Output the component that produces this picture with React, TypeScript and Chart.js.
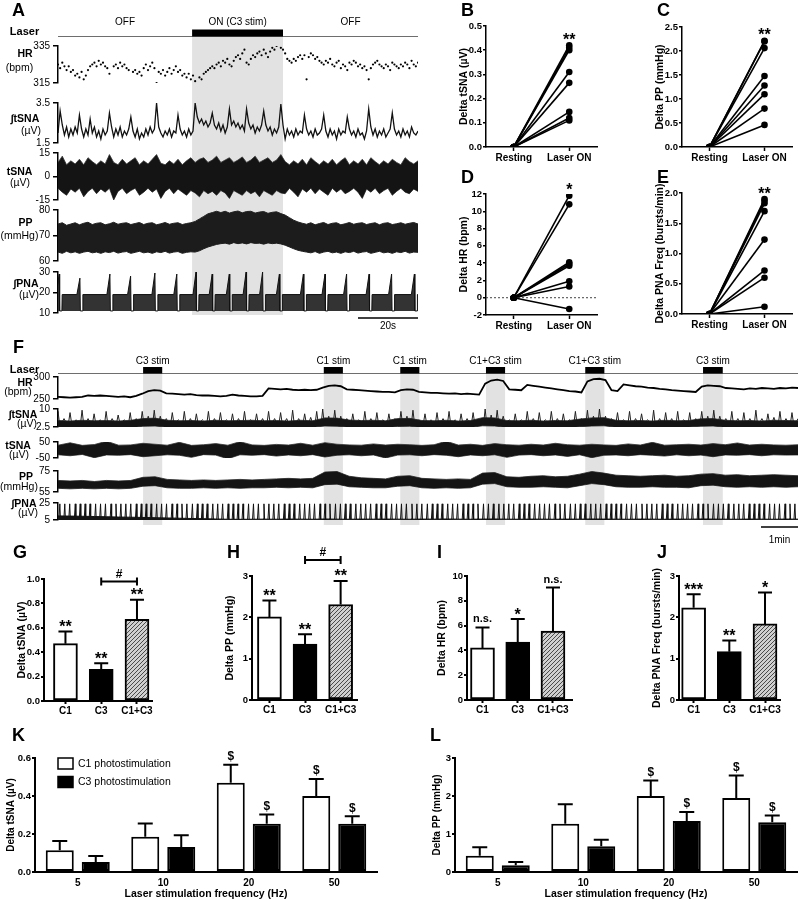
import React, { useEffect, useRef } from "react";
import { Chart, registerables } from "chart.js";

Chart.register(...registerables);

const FONT = "Arial, 'Liberation Sans', Helvetica, sans-serif";

// ================= Panel A : C3 stimulation (2 min) =================
const A_DURATION = 120;
const A_STIM: [number, number] = [44.7, 75];
const A_LASER_TEXT = ["OFF", "ON (C3 stim)", "OFF"];
const A_SCALE_S = 20;
const A_SCALE_TEXT = "20s";

const A_HR_TICKS = [315, 335];
const A_HR = [
  325, 323, 326, 324, 322, 324, 321, 322, 319, 320,
  318, 321, 317, 319, 322, 324, 325, 326, 324, 327,
  325, 326, 324, 323, 320, 312, 324, 325, 323, 326,
  324, 325, 323, 322, 314, 321, 322, 320, 321, 319,
  323, 325, 322, 324, 326, 323, 315, 321, 320, 322,
  319, 321, 323, 320, 322, 324, 321, 322, 319, 320,
  318, 320, 317, 319, 316, 313, 318, 317, 320, 321,
  322, 323, 324, 323, 325, 326, 324, 327, 326, 328,
  325, 324, 327, 329, 330, 328, 331, 333, 326, 325,
  328, 330, 329, 331, 332, 330, 333, 331, 329, 332,
  334, 333, 335, 336, 334, 333, 331, 328, 327, 326,
  328, 327, 329, 330, 328, 330, 317, 329, 331, 330,
  328, 329, 327, 326, 325, 327, 326, 328, 325, 324,
  326, 327, 323, 325, 324, 322, 326, 325, 327, 326,
  324, 325, 323, 324, 322, 317, 323, 325, 326, 327,
  325, 324, 323, 325, 324, 322, 326, 325, 324, 323,
  325, 324, 326, 325, 323, 327, 325, 324, 326,
];

const A_ITSNA_TICKS = [1.5, 3.5];
const A_ITSNA = [
  2.0, 3.1, 2.4, 1.9, 2.3, 1.8, 2.2, 1.9, 2.3, 2.0,
  2.9, 2.2, 1.8, 2.2, 1.9, 2.7, 2.0, 2.3, 1.8, 2.1,
  1.7, 2.2, 1.9, 2.1, 3.0, 2.3, 1.8, 2.2, 1.9, 2.3,
  1.8, 2.1, 1.9, 2.2, 2.8, 2.1, 1.8, 2.2, 1.7, 2.0,
  1.8, 2.2, 1.9, 2.3, 2.0, 2.2, 3.5, 2.3, 2.0, 1.8,
  2.1, 1.9, 2.2, 1.8, 2.1, 2.0, 2.9, 2.2, 1.9, 2.1,
  1.8, 2.2, 1.9, 2.1, 3.5, 2.8, 2.5, 2.7, 2.4, 2.6,
  2.3, 2.5, 3.0, 2.4, 2.2, 2.5, 2.1, 2.4, 2.0, 2.3,
  3.2, 2.4, 2.6, 2.3, 2.5, 2.2, 2.4, 2.1, 3.2, 2.5,
  2.2, 2.4, 2.0, 2.3, 2.1, 2.4, 3.1, 2.4, 2.1, 2.3,
  1.9, 2.2, 2.0, 2.3, 3.45, 2.4, 1.7, 2.2, 1.9, 2.1,
  1.8, 2.2, 1.9, 2.1, 2.0, 2.9, 2.2, 1.9, 2.1, 1.8,
  2.2, 1.9, 2.0, 2.2, 2.9, 2.1, 1.8, 2.2, 1.9, 2.1,
  1.7, 2.2, 1.9, 2.1, 2.0, 2.8, 2.2, 1.9, 2.1, 1.8,
  2.2, 1.9, 2.0, 1.7, 2.1, 3.2, 2.3, 1.9, 2.2, 1.8,
  2.1, 1.9, 2.2, 1.8, 2.0, 2.2, 3.0, 2.2, 1.9, 2.1,
  1.8, 2.2, 1.9, 2.1, 1.8, 2.3, 2.0, 1.9, 2.1,
];

const A_TSNA_TICKS = [-15, 0, 15];
const A_TSNA_UP = [
  9, 13, 7.5, 10, 8, 11, 7.5, 12, 9.5, 7.5,
  10, 8, 14, 9, 7.5, 11, 8, 10, 12, 7.5,
  10, 8, 11, 14, 8.5, 7.5, 10, 8, 11, 7.5,
  10, 12, 9, 11, 12, 9, 10.5, 13, 9, 10.5,
  12, 9, 10.5, 12.5, 9, 10.5, 13, 9, 10.5, 12,
  9, 10.5, 14, 9.5, 7.5, 10, 8, 11, 7.5, 12,
  9.5, 7.5, 10, 8, 11, 7.5, 10, 12, 7.5, 10,
  8, 11, 7.5, 12, 9.5, 7.5, 10, 8, 11, 9,
  7.5, 12, 9.5, 8, 10,
];
const A_TSNA_LO = [
  -7.5, -10, -12, -8, -10, -7.5, -13, -9.5, -7.5, -11,
  -8, -10, -7.5, -15, -9.5, -7.5, -11, -9, -7.5, -12,
  -10, -7.5, -10, -8, -14, -9.5, -7.5, -11, -8, -10,
  -12, -9, -10.5, -13, -9, -11, -9.5, -12, -9, -10.5,
  -14, -9, -10.5, -12, -9, -11, -9.5, -13, -9, -10.5,
  -12, -9, -10.5, -11, -7.5, -10, -13, -8, -10, -7.5,
  -11, -8, -10, -12, -7.5, -10, -8, -11, -9.5, -7.5,
  -10, -14, -8, -10, -7.5, -11, -9, -7.5, -12, -9.5,
  -7.5, -10, -11, -8, -9.5,
];

const A_PP_TICKS = [60, 70, 80];
const A_PP_UP = [
  74.5, 75, 74, 74.5, 75, 74.2, 74.8, 75.2, 74.3, 74.8,
  75, 74.2, 74.6, 75.2, 74.4, 74.8, 75, 74.3, 74.7, 75.1,
  74.3, 74.8, 75, 74.2, 74.6, 75.1, 74.4, 74.8, 75, 74.3,
  74.7, 75, 75.5, 76.5, 77.5, 78.5, 79, 79.5, 79, 79.5,
  78.8, 79.3, 79.6, 78.9, 79.4, 79.5, 78.8, 79.2, 79.4, 78.7,
  79.1, 79.3, 78.6, 78, 77, 76, 75.3, 74.8, 74.4, 75,
  74.2, 74.7, 75.1, 74.3, 74.8, 75, 74.2, 74.6, 75.1, 74.4,
  74.8, 75, 74.3, 74.7, 75, 74.2, 74.8, 75, 74.3, 74.6,
  75, 74.4, 74.8, 75.1, 74.5,
];
const A_PP_LO = [
  63.5, 63, 63.8, 63.2, 63.6, 63, 63.5, 63.8, 63.2, 63.5,
  63, 63.6, 63.3, 63.8, 63.1, 63.5, 63.7, 63, 63.4, 63.8,
  63.2, 63.5, 63, 63.6, 63.3, 63.8, 63.1, 63.5, 63.7, 63,
  63.4, 63.6, 63.5, 64, 64.8, 65.5, 66, 66.5, 66.8, 67,
  66.6, 67.2, 66.8, 67.1, 66.7, 67.2, 66.9, 67, 66.6, 67.1,
  66.8, 67, 66.7, 66.2, 65.5, 64.8, 64.2, 63.8, 63.5, 63.2,
  63.7, 63, 63.5, 63.8, 63.2, 63.5, 63, 63.6, 63.3, 63.8,
  63.1, 63.5, 63.7, 63, 63.4, 63.8, 63.2, 63.5, 63, 63.6,
  63.3, 63.8, 63.1, 63.5, 63.4,
];

const A_PNA_TICKS = [10, 20, 30];
const A_PNA_BURSTS = [0.4, 7.3, 17.3, 24.2, 32.3, 39.6, 46, 51.4, 57.1, 62.7, 68.2, 73.8, 81.8, 89, 96.2, 103.7, 111.2, 118.8];
const A_PNA_PEAKS = [29, 27, 29, 28, 29.5, 29, 30, 29, 29, 30, 30, 29, 29, 29, 29, 29, 29, 29];
const A_PNA_TOP = 19;
const A_PNA_FLOOR = 11;

// ================= Panel B-E : paired data =================
const PAIR_LABELS = ["Resting", "Laser ON"];
const B_VALUES = [0.42, 0.41, 0.4, 0.31, 0.265, 0.145, 0.12, 0.11];
const B_TICKS = [0, 0.1, 0.2, 0.3, 0.4, 0.5];
const B_SIG = "**";
const C_VALUES = [2.21, 2.2, 2.06, 1.48, 1.28, 1.1, 0.8, 0.46];
const C_TICKS = [0, 0.5, 1, 1.5, 2, 2.5];
const C_SIG = "**";
const D_VALUES = [11.8, 10.8, 4.1, 3.9, 3.7, 1.9, 1.3, -1.3];
const D_TICKS = [-2, 0, 2, 4, 6, 8, 10, 12];
const D_SIG = "*";
const E_VALUES = [1.9, 1.87, 1.83, 1.7, 1.23, 0.72, 0.6, 0.12];
const E_TICKS = [0, 0.5, 1, 1.5, 2];
const E_SIG = "**";

// ================= Panel F : sequential stimulations (20 min) =================
const F_DURATION = 1200;
const F_STIMS: [number, number][] = [[138, 169], [431, 462], [555, 586], [694, 725], [855, 886], [1046, 1078]];
const F_STIM_TEXT = ["C3 stim", "C1 stim", "C1 stim", "C1+C3 stim", "C1+C3 stim", "C3 stim"];
const F_SCALE_S = 60;
const F_SCALE_TEXT = "1min";

const F_HR_TICKS = [250, 300];
const F_HR = [
  255, 254, 253, 254, 255, 258, 257, 258, 257, 256, 255, 256, 254, 257,
  262, 268, 270, 269,
  263, 262, 261, 260, 261, 259, 258, 258, 257, 256, 257, 260, 258, 257, 256, 256, 257,
  274, 273, 272, 273, 271, 270, 271, 270, 271,
  276, 280, 281, 279,
  272, 271, 270, 269, 268, 267, 266, 266, 265,
  270, 272, 271,
  266, 265, 264, 264, 263, 262, 263, 261, 262, 261, 260,
  285, 292, 294, 291,
  272, 271, 270,
  282, 280, 278, 276, 274, 272, 270, 268, 267, 265,
  290, 295, 296, 293,
  270, 268,
  283, 281, 279, 278, 276, 275, 273, 272, 270, 269, 268, 267, 266,
  278, 281, 280, 279,
  275, 274, 273, 272, 274, 273, 275, 274, 273, 275, 274, 276, 275,
];

const F_ITSNA_TICKS = [2.5, 10];
const F_ITSNA_BASE = [
  5.2, 5.0, 5.3, 5.1, 5.2, 5.0, 5.3, 6.0, 6.2,
  5.3, 5.1, 5.2, 5.0, 5.3, 5.1, 5.2, 5.3, 5.1, 5.2, 5.0, 5.3, 5.1,
  6.3, 6.2, 5.4, 5.2, 5.3, 5.1, 6.0, 6.1,
  5.2, 5.1, 5.3, 5.0, 5.2, 6.4, 6.3,
  5.2, 5.1, 5.3, 5.0, 5.2, 5.1, 5.8, 6.3, 6.4,
  5.3, 5.1, 5.2, 5.0, 5.3, 5.1, 5.2, 5.9, 6.0,
  5.3, 5.1, 5.2, 5.0, 5.3, 5.2, 5.1,
];
const F_ITSNA_LO = [
  2.3, 2.4, 2.2, 2.5, 2.3, 2.4, 2.2, 2.8, 2.9,
  2.4, 2.3, 2.5, 2.2, 2.4, 2.3, 2.5, 2.4, 2.2, 2.4, 2.5, 2.3, 2.4,
  2.9, 2.8, 2.4, 2.3, 2.4, 2.2, 2.7, 2.8,
  2.3, 2.4, 2.2, 2.5, 2.3, 3.0, 2.9,
  2.3, 2.4, 2.2, 2.5, 2.4, 2.3, 2.6, 2.9, 3.0,
  2.4, 2.3, 2.5, 2.2, 2.4, 2.3, 2.5, 2.8, 2.9,
  2.4, 2.3, 2.5, 2.2, 2.4, 2.3, 2.4,
];
const F_ITSNA_PEAKS = [
  9, 6, 8.5, 5.5, 9.5, 6, 8, 5.5, 9, 6, 7.5, 5.5, 8.5, 6,
  9, 7, 9.5, 7,
  6, 8.5, 5.5, 9, 6, 8, 5.5, 9, 6, 8.5, 5.5, 8, 6, 9, 5.5, 8, 6,
  9, 6, 8.5, 6, 9.5, 6, 8, 6.5, 9,
  10, 7, 9.5, 7,
  6, 8, 5.5, 9, 6, 8.5, 5.5, 8, 6,
  9, 7, 9.5,
  5.5, 8, 5.5, 8.5, 6, 9, 5.5, 8, 6, 8.5, 5.5,
  10, 7.5, 9.5, 7,
  5.5, 8, 5.5, 9, 6, 8.5, 5.5, 9, 6, 8, 5.5, 9, 6,
  9.5, 7, 10, 7,
  6, 8.5, 5.5, 9, 6, 8, 5.5, 9.5, 6, 8.5, 6, 9, 5.5, 8.5, 6,
  9, 7, 9.5, 7,
  6, 9, 6, 8.5, 6, 9.5, 6, 8, 6.5, 9, 6, 8.5, 6,
];

const F_TSNA_TICKS = [-50, 50];
const F_TSNA_UP = [
  30, 45, 29, 34, 55, 30, 32, 42, 36, 30,
  48, 29, 33, 40, 30, 52, 32, 29, 35, 31,
  42, 30, 46, 36, 32, 30, 38, 31, 36, 33,
  29, 33, 55, 31, 36, 29, 40, 33, 30, 36,
  31, 42, 33, 30, 36, 32, 29, 38, 31, 48,
  30, 33, 36, 31, 40, 33, 44, 31, 36, 32,
  30, 33,
];
const F_TSNA_LO = [
  -30, -36, -28, -48, -31, -33, -29, -42, -36, -30,
  -33, -46, -29, -32, -55, -30, -33, -29, -38, -31,
  -36, -29, -44, -33, -30, -36, -31, -50, -32, -30,
  -36, -29, -33, -42, -31, -36, -30, -46, -32, -29,
  -36, -31, -40, -30, -48, -33, -31, -36, -29, -33,
  -38, -30, -36, -32, -42, -31, -33, -29, -36, -30,
  -32, -31,
];

const F_PP_TICKS = [55, 75];
const F_PP_UP = [
  66, 65.5, 66, 65, 66, 65.5, 66,
  69, 69.5,
  67, 66.5, 66, 66.5, 66, 66.5, 67, 66.5, 67, 67.5, 68, 67.5, 68,
  74, 74.5,
  70, 68.5, 68, 67.5,
  70, 70.5,
  68, 67.5, 67, 67.5, 67,
  73, 73.5,
  69.5, 69, 70, 70.5, 69.5, 70,
  72, 74.5, 73,
  71, 70.5, 70, 70.5, 71, 70, 70.5,
  72, 72.5,
  71, 71.5, 70.5, 71, 71.5, 71, 70.5,
];
const F_PP_LO = [
  58.5, 58, 58.5, 58, 58.5, 58, 58.5,
  60.5, 61,
  59, 58.5, 58.5, 59, 58.5, 59, 58.5, 59, 59, 59.5, 59, 59.5, 59,
  62, 62.5,
  60, 59.5, 59, 59,
  60.5, 61,
  59, 58.5, 59, 58.5, 59,
  62.5, 63,
  60, 59.5, 59.5, 60, 59.5, 59,
  61, 63, 62,
  60, 59.5, 59.5, 60, 59.5, 59.5, 59,
  61, 61.5,
  60, 59.5, 60, 59.5, 60, 59.5, 60,
];

const F_PNA_TICKS = [5, 25];
const F_PNA_BASE = [
  9.8, 9.6, 9.4, 9.1, 8.8, 8.5, 8.3, 8.0, 7.7, 7.4,
  7.1, 6.8, 6.5, 6.2, 5.9, 5.8, 5.9, 6.0, 5.9, 6.1,
  6.0, 5.9, 6.2, 6.0, 5.9, 6.1, 6.0, 6.1, 6.0, 5.9,
  6.1, 6.0, 6.2, 6.0, 5.9, 6.1, 6.2, 6.0, 5.9, 6.1,
  6.0, 5.9, 6.1, 6.0, 6.2, 6.1, 6.0, 5.9, 6.1, 6.0,
  5.9, 6.1, 6.0, 6.2, 6.1, 6.0, 5.9, 6.1, 6.0, 5.9,
  6.1, 6.0,
];
const F_PNA_BURSTS = [
  3, 11, 19, 28, 36, 44, 52, 61, 69, 77, 86, 94, 102, 110, 118, 127, 135, 143, 151, 160,
  168, 176, 185, 193, 201, 209, 218, 226, 234, 242, 251, 259, 267, 276, 284, 292, 300, 309, 317, 325,
  334, 342, 350, 358, 367, 375, 383, 392, 400, 408, 416, 425, 433, 441, 450, 458, 466, 474, 483, 491,
  499, 507, 516, 524, 532, 541, 549, 557, 565, 574, 582, 590, 599, 607, 615, 623, 632, 640, 648, 657,
  665, 673, 681, 690, 698, 706, 715, 723, 731, 739, 748, 756, 764, 773, 781, 789, 797, 806, 814, 822,
  831, 839, 847, 855, 864, 872, 880, 889, 897, 905, 913, 922, 930, 938, 947, 955, 963, 971, 980, 988,
  996, 1005, 1013, 1021, 1029, 1038, 1046, 1054, 1063, 1071, 1079, 1087, 1096, 1104, 1112, 1121, 1129, 1137, 1145, 1154,
  1162, 1170, 1179, 1187, 1195,
];
const F_PNA_PEAK = 24;

// ================= Panels G-J : group means =================
const GROUPS = ["C1", "C3", "C1+C3"];
const G_MEAN = [0.47, 0.26, 0.67];
const G_SEM = [0.1, 0.05, 0.16];
const G_SIG = ["**", "**", "**"];
const G_TICKS = [0, 0.2, 0.4, 0.6, 0.8, 1.0];
const G_BRACKET = { from: 2, to: 3, y: 0.98, text: "#" };
const H_MEAN = [2.01, 1.35, 2.31];
const H_SEM = [0.4, 0.24, 0.57];
const H_SIG = ["**", "**", "**"];
const H_TICKS = [0, 1, 2, 3];
const H_BRACKET = { from: 2, to: 3, y: 3.39, text: "#" };
const I_MEAN = [4.2, 4.68, 5.55];
const I_SEM = [1.65, 1.85, 3.52];
const I_SIG = ["n.s.", "*", "n.s."];
const I_TICKS = [0, 2, 4, 6, 8, 10];
const J_MEAN = [2.23, 1.17, 1.84];
const J_SEM = [0.33, 0.27, 0.76];
const J_SIG = ["***", "**", "*"];
const J_TICKS = [0, 1, 2, 3];

// ================= Panels K-L : frequency dependence =================
const FREQS = ["5", "10", "20", "50"];
const SERIES_NAMES = ["C1 photostimulation", "C3 photostimulation"];
const K_C1_MEAN = [0.115, 0.185, 0.47, 0.4];
const K_C1_SEM = [0.048, 0.07, 0.095, 0.09];
const K_C3_MEAN = [0.053, 0.132, 0.254, 0.254];
const K_C3_SEM = [0.031, 0.061, 0.048, 0.039];
const K_C1_SIG = ["", "", "$", "$"];
const K_C3_SIG = ["", "", "$", "$"];
const K_TICKS = [0, 0.2, 0.4, 0.6];
const L_C1_MEAN = [0.43, 1.27, 2.0, 1.95];
const L_C1_SEM = [0.22, 0.51, 0.41, 0.59];
const L_C3_MEAN = [0.18, 0.68, 1.34, 1.31];
const L_C3_SEM = [0.08, 0.17, 0.24, 0.18];
const L_C1_SIG = ["", "", "$", "$"];
const L_C3_SIG = ["", "", "$", "$"];
const L_TICKS = [0, 1, 2, 3];

// ================= helpers =================
type Geo = { l: number; t: number; r: number; b: number; pl: number; pt: number; pr: number; pb: number };
const boxOf = (g: Geo) => ({
  left: g.l - g.pl,
  top: g.t - g.pt,
  width: g.r - g.l + g.pl + g.pr,
  height: g.b - g.t + g.pt + g.pb,
});

const series = (arr: number[], T: number) => arr.map((v, i) => ({ x: (i * T) / (arr.length - 1), y: v }));
const gridTimes = (arr: number[], T: number) => arr.map((_, i) => (i * T) / (arr.length - 1));

function spikes(times: number[], peaks: number[] | number, base: number, rise: number, fall: number) {
  const pts: any[] = [];
  times.forEach((t, i) => {
    const p = Array.isArray(peaks) ? peaks[i] : peaks;
    pts.push({ x: t - rise, y: base }, { x: t, y: p }, { x: t + fall, y: base }, { x: t + fall + 0.01, y: null });
  });
  return pts;
}

function pnaAPoints() {
  const pts: any[] = [];
  A_PNA_BURSTS.forEach((t, i) => {
    pts.push(
      { x: t - 1.0, y: A_PNA_TOP },
      { x: t, y: A_PNA_PEAKS[i] },
      { x: t + 0.15, y: A_PNA_FLOOR },
      { x: t + 0.9, y: A_PNA_FLOOR },
      { x: t + 1.0, y: A_PNA_TOP }
    );
  });
  pts.push({ x: A_DURATION, y: A_PNA_TOP });
  return pts;
}

const baseOptions = () => ({
  animation: false,
  responsive: false,
  maintainAspectRatio: false,
  devicePixelRatio: 1,
  events: [],
  plugins: { legend: { display: false }, tooltip: { enabled: false } },
});

function yAxis(o: {
  min: number; max: number; ticks: number[]; width: number; fmt: (v: number) => string;
  size: number; bold?: boolean; title?: string; titleSize?: number; lineW?: number; tickLen?: number; pad?: number;
}) {
  const lw = o.lineW ?? 1.5;
  return {
    type: "linear",
    min: o.min,
    max: o.max,
    afterBuildTicks: (s: any) => {
      s.ticks = o.ticks.map((v) => ({ value: v }));
    },
    afterFit: (s: any) => {
      s.width = o.width;
      s.paddingTop = 0;
      s.paddingBottom = 0;
      s.paddingLeft = 0;
      s.paddingRight = 0;
    },
    ticks: {
      color: "#000",
      autoSkip: false,
      padding: o.pad ?? 2,
      font: { family: FONT, size: o.size, weight: o.bold ? "bold" : "normal" },
      callback: (v: any) => o.fmt(Number(v)),
    },
    grid: {
      display: true,
      drawOnChartArea: false,
      drawTicks: true,
      tickLength: o.tickLen ?? 4,
      tickWidth: lw,
      tickColor: "#000",
      color: "#000",
      lineWidth: lw,
    },
    border: { display: true, color: "#000", width: lw },
    title: o.title
      ? {
          display: true,
          text: o.title,
          color: "#000",
          font: { family: FONT, size: o.titleSize ?? 10.5, weight: "bold" },
          padding: { top: 4, bottom: 0 },
        }
      : { display: false },
  };
}

function centeredText(ctx: CanvasRenderingContext2D, text: string, x: number, cy: number, font: string) {
  ctx.font = font;
  ctx.textAlign = "center";
  ctx.textBaseline = "alphabetic";
  const m = ctx.measureText(text);
  const asc = m.actualBoundingBoxAscent || 0;
  const desc = m.actualBoundingBoxDescent || 0;
  ctx.fillText(text, x, cy + (asc - desc) / 2);
}
const sigFont = (t: string) =>
  t.includes("*") ? `bold 16px ${FONT}` : t === "n.s." ? `bold 11px ${FONT}` : `bold 12px ${FONT}`;

function hatchPattern(): any {
  const c = document.createElement("canvas");
  c.width = 4;
  c.height = 4;
  const g = c.getContext("2d")!;
  g.fillStyle = "#cfcfcf";
  g.fillRect(0, 0, 4, 4);
  g.strokeStyle = "#4a4a4a";
  g.lineWidth = 1;
  g.beginPath();
  g.moveTo(0, 4);
  g.lineTo(4, 0);
  g.moveTo(-1, 1);
  g.lineTo(1, -1);
  g.moveTo(3, 5);
  g.lineTo(5, 3);
  g.stroke();
  return g.createPattern(c, "repeat");
}

// ---------- chart builders ----------
function traceChart(c: HTMLCanvasElement, g: Geo, T: number, ticks: number[], datasets: any[]) {
  return new Chart(c, {
    type: "line",
    data: { datasets },
    options: {
      ...baseOptions(),
      layout: { padding: { left: 0, top: g.pt, right: g.pr, bottom: g.pb } },
      elements: { point: { radius: 0 }, line: { tension: 0 } },
      scales: {
        x: { type: "linear", min: 0, max: T, display: false },
        y: yAxis({
          min: ticks[0],
          max: ticks[ticks.length - 1],
          ticks,
          width: g.pl,
          fmt: (v) => String(v),
          size: 10,
          tickLen: 5,
          pad: 3,
          lineW: 1.5,
        }),
      },
    },
  } as any);
}

function frameChart(
  c: HTMLCanvasElement,
  g: Geo,
  T: number,
  stims: [number, number][],
  labels: { text: string; from: number; to: number }[],
  scaleS: number,
  scaleText: string,
  o: { barH: number; labelDy: number; sbDy: number; sbTextDy: number }
) {
  return new Chart(c, {
    type: "line",
    data: { datasets: [] },
    options: {
      ...baseOptions(),
      layout: { padding: { left: g.pl, top: g.pt, right: g.pr, bottom: g.pb } },
      scales: {
        x: { type: "linear", min: 0, max: T, display: false },
        y: { type: "linear", min: 0, max: 1, display: false },
      },
    },
    plugins: [
      {
        id: "frame",
        afterDraw(chart: any) {
          const { ctx, chartArea: a } = chart;
          const x = chart.scales.x;
          ctx.save();
          ctx.fillStyle = "#e2e2e2";
          for (const [s, e] of stims) {
            const x1 = x.getPixelForValue(s);
            const x2 = x.getPixelForValue(e);
            ctx.fillRect(x1, a.top, x2 - x1, a.bottom - a.top);
          }
          ctx.strokeStyle = "#6e6e6e";
          ctx.lineWidth = 1;
          ctx.beginPath();
          ctx.moveTo(a.left, a.top + 0.5);
          ctx.lineTo(a.right, a.top + 0.5);
          ctx.stroke();
          ctx.fillStyle = "#000";
          for (const [s, e] of stims) {
            const x1 = x.getPixelForValue(s);
            const x2 = x.getPixelForValue(e);
            ctx.fillRect(x1, a.top - o.barH, x2 - x1, o.barH + 0.5);
          }
          ctx.font = `10px ${FONT}`;
          ctx.textAlign = "center";
          ctx.textBaseline = "middle";
          for (const l of labels) {
            ctx.fillText(l.text, x.getPixelForValue((l.from + l.to) / 2), a.top - o.labelDy);
          }
          const s1 = x.getPixelForValue(T - scaleS);
          const s2 = x.getPixelForValue(T);
          ctx.strokeStyle = "#000";
          ctx.lineWidth = 1.5;
          ctx.beginPath();
          ctx.moveTo(s1, a.bottom + o.sbDy);
          ctx.lineTo(s2, a.bottom + o.sbDy);
          ctx.stroke();
          ctx.fillText(scaleText, (s1 + s2) / 2, a.bottom + o.sbTextDy);
          ctx.restore();
        },
      },
    ],
  } as any);
}

function pairedChart(c: HTMLCanvasElement, g: Geo, vals: number[], ticks: number[], dec: number, title: string, sig: string, zeroLine: boolean) {
  const datasets = vals.map((v) => ({
    data: [0, v],
    borderColor: "#000",
    borderWidth: 1.6,
    pointRadius: 3.3,
    pointBackgroundColor: "#000",
    pointBorderWidth: 0,
  }));
  return new Chart(c, {
    type: "line",
    data: { labels: PAIR_LABELS, datasets },
    options: {
      ...baseOptions(),
      layout: { padding: { left: 0, top: g.pt, right: g.pr, bottom: 0 } },
      elements: { line: { tension: 0 } },
      scales: {
        x: {
          type: "category",
          offset: true,
          afterFit: (s: any) => {
            s.height = g.pb;
            s.paddingLeft = 0;
            s.paddingRight = 0;
          },
          ticks: { color: "#000", padding: 1, font: { family: FONT, size: 10, weight: "bold" } },
          grid: { drawOnChartArea: false, tickLength: 4, tickWidth: 1.5, tickColor: "#000", color: "#000", offset: false },
          border: { color: "#000", width: 1.5 },
        },
        y: yAxis({
          min: ticks[0],
          max: ticks[ticks.length - 1],
          ticks,
          width: g.pl,
          fmt: (v) => v.toFixed(dec),
          size: 9.5,
          bold: true,
          title,
          lineW: 1.5,
          tickLen: 3,
          pad: 1,
        }),
      },
    },
    plugins: [
      {
        id: "pairedAnnot",
        beforeDatasetsDraw(chart: any) {
          if (!zeroLine) return;
          const { ctx, chartArea: a } = chart;
          const y0 = chart.scales.y.getPixelForValue(0);
          ctx.save();
          ctx.strokeStyle = "#444";
          ctx.lineWidth = 1;
          ctx.setLineDash([2, 2]);
          ctx.beginPath();
          ctx.moveTo(a.left, y0);
          ctx.lineTo(a.right, y0);
          ctx.stroke();
          ctx.restore();
        },
        afterDatasetsDraw(chart: any) {
          const { ctx } = chart;
          const xp = chart.scales.x.getPixelForValue(1);
          const yp = chart.scales.y.getPixelForValue(Math.max(...vals));
          ctx.save();
          ctx.fillStyle = "#000";
          centeredText(ctx, sig, xp, yp - 9, sigFont(sig));
          ctx.restore();
        },
      },
    ],
  } as any);
}

function groupBarChart(
  c: HTMLCanvasElement,
  g: Geo,
  means: number[],
  sems: number[],
  sig: string[],
  ticks: number[],
  dec: number,
  title: string,
  xr: [number, number],
  bracket: { from: number; to: number; y: number; text: string } | null
) {
  const fills = ["#ffffff", "#000000", hatchPattern()];
  return new Chart(c, {
    type: "bar",
    data: {
      datasets: [
        {
          data: means.map((m, i) => ({ x: i + 1, y: m })),
          backgroundColor: fills,
          borderColor: "#000",
          borderWidth: 2,
          borderSkipped: false,
          barThickness: 24,
        },
      ],
    },
    options: {
      ...baseOptions(),
      layout: { padding: { left: 0, top: g.pt, right: g.pr, bottom: 0 } },
      scales: {
        x: {
          type: "linear",
          min: xr[0],
          max: xr[1],
          offset: false,
          afterBuildTicks: (s: any) => {
            s.ticks = GROUPS.map((_, i) => ({ value: i + 1 }));
          },
          afterFit: (s: any) => {
            s.height = g.pb;
            s.paddingLeft = 0;
            s.paddingRight = 0;
          },
          ticks: {
            color: "#000",
            padding: 1,
            autoSkip: false,
            font: { family: FONT, size: 10, weight: "bold" },
            callback: (v: any) => GROUPS[Number(v) - 1] ?? "",
          },
          grid: { offset: false, drawOnChartArea: false, tickLength: 3, tickWidth: 2, tickColor: "#000", color: "#000" },
          border: { color: "#000", width: 2 },
        },
        y: yAxis({
          min: ticks[0],
          max: ticks[ticks.length - 1],
          ticks,
          width: g.pl,
          fmt: (v) => v.toFixed(dec),
          size: 9.5,
          bold: true,
          title,
          lineW: 2,
          tickLen: 3,
          pad: 1,
        }),
      },
    },
    plugins: [
      {
        id: "barAnnot",
        afterDatasetsDraw(chart: any) {
          const { ctx } = chart;
          const ys = chart.scales.y;
          const xs = chart.scales.x;
          const meta = chart.getDatasetMeta(0);
          ctx.save();
          ctx.strokeStyle = "#000";
          ctx.fillStyle = "#000";
          ctx.lineWidth = 2;
          meta.data.forEach((bar: any, i: number) => {
            const base = ys.getPixelForValue(means[i]);
            const top = ys.getPixelForValue(means[i] + sems[i]);
            ctx.beginPath();
            ctx.moveTo(bar.x, base);
            ctx.lineTo(bar.x, top);
            ctx.moveTo(bar.x - 7, top);
            ctx.lineTo(bar.x + 7, top);
            ctx.stroke();
            if (sig[i]) centeredText(ctx, sig[i], bar.x, top - 8, sigFont(sig[i]));
          });
          if (bracket) {
            const x1 = xs.getPixelForValue(bracket.from);
            const x2 = xs.getPixelForValue(bracket.to);
            const y = ys.getPixelForValue(bracket.y);
            ctx.beginPath();
            ctx.moveTo(x1, y);
            ctx.lineTo(x2, y);
            ctx.moveTo(x1, y - 4);
            ctx.lineTo(x1, y + 4);
            ctx.moveTo(x2, y - 4);
            ctx.lineTo(x2, y + 4);
            ctx.stroke();
            centeredText(ctx, bracket.text, (x1 + x2) / 2, y - 8, `bold 12px ${FONT}`);
          }
          ctx.restore();
        },
      },
    ],
  } as any);
}

function freqBarChart(
  c: HTMLCanvasElement,
  g: Geo,
  m1: number[],
  s1: number[],
  sig1: string[],
  m2: number[],
  s2: number[],
  sig2: string[],
  ticks: number[],
  dec: number,
  title: string,
  legend: boolean
) {
  const common = { borderColor: "#000", borderWidth: 2, borderSkipped: false, categoryPercentage: 0.842, barPercentage: 0.778 };
  const means = [m1, m2];
  const sems = [s1, s2];
  const sigs = [sig1, sig2];
  return new Chart(c, {
    type: "bar",
    data: {
      labels: FREQS,
      datasets: [
        { label: SERIES_NAMES[0], data: m1, backgroundColor: "#ffffff", ...common },
        { label: SERIES_NAMES[1], data: m2, backgroundColor: "#000000", ...common },
      ],
    },
    options: {
      ...baseOptions(),
      layout: { padding: { left: 0, top: g.pt, right: g.pr, bottom: 0 } },
      scales: {
        x: {
          type: "category",
          afterFit: (s: any) => {
            s.height = g.pb;
            s.paddingLeft = 0;
            s.paddingRight = 0;
          },
          ticks: { color: "#000", padding: 5, font: { family: FONT, size: 10, weight: "bold" } },
          grid: { display: false, drawTicks: false },
          border: { color: "#000", width: 2 },
          title: {
            display: true,
            text: "Laser stimulation frequency (Hz)",
            color: "#000",
            font: { family: FONT, size: 10.5, weight: "bold" },
            padding: { top: 0, bottom: 0 },
          },
        },
        y: yAxis({
          min: ticks[0],
          max: ticks[ticks.length - 1],
          ticks,
          width: g.pl,
          fmt: (v) => v.toFixed(dec),
          size: 9.5,
          bold: true,
          title,
          titleSize: 10,
          lineW: 2,
          tickLen: 3,
          pad: 1,
        }),
      },
    },
    plugins: [
      {
        id: "freqAnnot",
        afterDatasetsDraw(chart: any) {
          const { ctx, chartArea: a } = chart;
          const ys = chart.scales.y;
          ctx.save();
          ctx.strokeStyle = "#000";
          ctx.fillStyle = "#000";
          ctx.lineWidth = 2;
          for (let d = 0; d < 2; d++) {
            const meta = chart.getDatasetMeta(d);
            meta.data.forEach((bar: any, i: number) => {
              const base = ys.getPixelForValue(means[d][i]);
              const top = ys.getPixelForValue(means[d][i] + sems[d][i]);
              ctx.beginPath();
              ctx.moveTo(bar.x, base);
              ctx.lineTo(bar.x, top);
              ctx.moveTo(bar.x - 7.5, top);
              ctx.lineTo(bar.x + 7.5, top);
              ctx.stroke();
              if (sigs[d][i]) centeredText(ctx, sigs[d][i], bar.x, top - 8, sigFont(sigs[d][i]));
            });
          }
          if (legend) {
            const fillsL = ["#ffffff", "#000000"];
            ctx.lineWidth = 1.5;
            for (let d = 0; d < 2; d++) {
              const bx = a.left + 23;
              const by = a.top + d * 18.5;
              ctx.fillStyle = fillsL[d];
              ctx.fillRect(bx, by, 15, 11);
              ctx.strokeRect(bx, by, 15, 11);
              ctx.fillStyle = "#000";
              ctx.font = `10.5px ${FONT}`;
              ctx.textAlign = "left";
              ctx.textBaseline = "middle";
              ctx.fillText(SERIES_NAMES[d], bx + 20, by + 6);
            }
          }
          ctx.restore();
        },
      },
    ],
  } as any);
}

// ---------- layout ----------
const A_FRAME: Geo = { l: 58, t: 36, r: 418, b: 315, pl: 58, pt: 26, pr: 7, pb: 20 };
const A_ROWS: Record<string, Geo> = {
  hr: { l: 58, t: 46, r: 418, b: 83, pl: 58, pt: 8, pr: 7, pb: 8 },
  itsna: { l: 58, t: 103, r: 418, b: 143, pl: 58, pt: 8, pr: 7, pb: 5 },
  tsna: { l: 58, t: 153, r: 418, b: 200, pl: 58, pt: 6, pr: 7, pb: 5 },
  pp: { l: 58, t: 210, r: 418, b: 261, pl: 58, pt: 6, pr: 7, pb: 5 },
  pna: { l: 58, t: 272, r: 418, b: 313, pl: 58, pt: 6, pr: 7, pb: 6 },
};
const F_FRAME: Geo = { l: 58, t: 373, r: 798, b: 525, pl: 58, pt: 22, pr: 1, pb: 22 };
const F_ROWS: Record<string, Geo> = {
  hr: { l: 58, t: 377, r: 798, b: 399, pl: 58, pt: 6, pr: 1, pb: 5 },
  itsna: { l: 58, t: 409, r: 798, b: 427, pl: 58, pt: 6, pr: 1, pb: 5 },
  tsna: { l: 58, t: 442, r: 798, b: 458, pl: 58, pt: 6, pr: 1, pb: 5 },
  pp: { l: 58, t: 471, r: 798, b: 492, pl: 58, pt: 6, pr: 1, pb: 5 },
  pna: { l: 58, t: 503, r: 798, b: 520, pl: 58, pt: 6, pr: 1, pb: 5 },
};
const B_GEO: Geo = { l: 486, t: 26, r: 597, b: 147, pl: 32, pt: 12, pr: 4, pb: 18 };
const C_GEO: Geo = { l: 682, t: 27, r: 792, b: 147, pl: 32, pt: 12, pr: 5, pb: 18 };
const D_GEO: Geo = { l: 486, t: 194, r: 597, b: 315, pl: 32, pt: 16, pr: 4, pb: 16 };
const E_GEO: Geo = { l: 682, t: 193, r: 792, b: 314, pl: 32, pt: 15, pr: 5, pb: 17 };
const G_GEO: Geo = { l: 44, t: 579, r: 152, b: 701, pl: 32, pt: 39, pr: 4, pb: 18 };
const H_GEO: Geo = { l: 252, t: 576, r: 357, b: 700, pl: 32, pt: 36, pr: 4, pb: 19 };
const I_GEO: Geo = { l: 467, t: 576, r: 572, b: 700, pl: 35, pt: 36, pr: 4, pb: 19 };
const J_GEO: Geo = { l: 679, t: 576, r: 780, b: 700, pl: 32, pt: 36, pr: 4, pb: 19 };
const K_GEO: Geo = { l: 35, t: 758, r: 377, b: 872, pl: 34, pt: 12, pr: 3, pb: 28 };
const L_GEO: Geo = { l: 455, t: 758, r: 797, b: 872, pl: 28, pt: 12, pr: 2, pb: 28 };

// ---------- components ----------
function ChartCanvas({ g, make }: { g: Geo; make: (c: HTMLCanvasElement) => Chart }) {
  const ref = useRef<HTMLCanvasElement | null>(null);
  const b = boxOf(g);
  useEffect(() => {
    const chart = make(ref.current as HTMLCanvasElement);
    return () => chart.destroy();
  }, []);
  return (
    <canvas
      ref={ref}
      width={b.width}
      height={b.height}
      style={{ position: "absolute", left: b.left, top: b.top, width: b.width, height: b.height, display: "block" }}
    />
  );
}

function Txt({ x, y, text, bold, size }: { x: number; y: number; text: string; bold?: boolean; size?: number }) {
  const s = size ?? 10.5;
  return (
    <div
      style={{
        position: "absolute",
        left: x - 60,
        width: 120,
        top: y - (s * 1.2) / 2,
        height: s * 1.2,
        lineHeight: `${s * 1.2}px`,
        fontSize: s,
        fontWeight: bold ? "bold" : "normal",
        textAlign: "center",
        whiteSpace: "nowrap",
        color: "#000",
        fontFamily: FONT,
      }}
    >
      {text}
    </div>
  );
}

function Letter({ x, y, text }: { x: number; y: number; text: string }) {
  return (
    <div
      style={{
        position: "absolute",
        left: x,
        top: y,
        fontSize: 18,
        lineHeight: "18px",
        fontWeight: "bold",
        fontFamily: FONT,
        color: "#000",
      }}
    >
      {text}
    </div>
  );
}

export default function App() {
  const aLabels = [
    { text: A_LASER_TEXT[0], from: 0, to: A_STIM[0] },
    { text: A_LASER_TEXT[1], from: A_STIM[0], to: A_STIM[1] },
    { text: A_LASER_TEXT[2], from: A_STIM[1], to: A_DURATION },
  ];
  const fLabels = F_STIMS.map((s, i) => ({ text: F_STIM_TEXT[i], from: s[0], to: s[1] }));
  const dark = "#141414";

  return (
    <div style={{ position: "absolute", left: 0, top: 0, width: 799, height: 900, background: "#fff", overflow: "hidden", fontFamily: FONT }}>
      {/* ---------- Panel A ---------- */}
      <ChartCanvas
        g={A_FRAME}
        make={(c) => frameChart(c, A_FRAME, A_DURATION, [A_STIM], aLabels, A_SCALE_S, A_SCALE_TEXT, { barH: 6.5, labelDy: 14, sbDy: 3, sbTextDy: 11 })}
      />
      <ChartCanvas
        g={A_ROWS.hr}
        make={(c) =>
          traceChart(c, A_ROWS.hr, A_DURATION, A_HR_TICKS, [
            { data: series(A_HR, A_DURATION), showLine: false, pointRadius: 1.1, pointBackgroundColor: "#000", pointBorderWidth: 0 },
          ])
        }
      />
      <ChartCanvas
        g={A_ROWS.itsna}
        make={(c) =>
          traceChart(c, A_ROWS.itsna, A_DURATION, A_ITSNA_TICKS, [
            { data: series(A_ITSNA, A_DURATION), borderColor: "#111", borderWidth: 1.3 },
          ])
        }
      />
      <ChartCanvas
        g={A_ROWS.tsna}
        make={(c) =>
          traceChart(c, A_ROWS.tsna, A_DURATION, A_TSNA_TICKS, [
            { data: series(A_TSNA_UP, A_DURATION), borderColor: "#333", borderWidth: 0.8, backgroundColor: dark, fill: "+1" },
            { data: series(A_TSNA_LO, A_DURATION), borderColor: "#333", borderWidth: 0.8, fill: false },
          ])
        }
      />
      <ChartCanvas
        g={A_ROWS.pp}
        make={(c) =>
          traceChart(c, A_ROWS.pp, A_DURATION, A_PP_TICKS, [
            { data: series(A_PP_UP, A_DURATION), borderColor: "#222", borderWidth: 1, backgroundColor: "#1c1c1c", fill: "+1" },
            { data: series(A_PP_LO, A_DURATION), borderColor: "#222", borderWidth: 1, fill: false },
          ])
        }
      />
      <ChartCanvas
        g={A_ROWS.pna}
        make={(c) =>
          traceChart(c, A_ROWS.pna, A_DURATION, A_PNA_TICKS, [
            { data: pnaAPoints(), borderColor: "#111", borderWidth: 1, backgroundColor: "#333", fill: { value: A_PNA_FLOOR } },
          ])
        }
      />

      {/* ---------- Panels B-E ---------- */}
      <ChartCanvas g={B_GEO} make={(c) => pairedChart(c, B_GEO, B_VALUES, B_TICKS, 1, "Delta tSNA (µV)", B_SIG, false)} />
      <ChartCanvas g={C_GEO} make={(c) => pairedChart(c, C_GEO, C_VALUES, C_TICKS, 1, "Delta PP (mmHg)", C_SIG, false)} />
      <ChartCanvas g={D_GEO} make={(c) => pairedChart(c, D_GEO, D_VALUES, D_TICKS, 0, "Delta HR (bpm)", D_SIG, true)} />
      <ChartCanvas g={E_GEO} make={(c) => pairedChart(c, E_GEO, E_VALUES, E_TICKS, 1, "Delta PNA Freq (bursts/min)", E_SIG, false)} />

      {/* ---------- Panel F ---------- */}
      <ChartCanvas
        g={F_FRAME}
        make={(c) => frameChart(c, F_FRAME, F_DURATION, F_STIMS, fLabels, F_SCALE_S, F_SCALE_TEXT, { barH: 6, labelDy: 12, sbDy: 2, sbTextDy: 15 })}
      />
      <ChartCanvas
        g={F_ROWS.hr}
        make={(c) =>
          traceChart(c, F_ROWS.hr, F_DURATION, F_HR_TICKS, [{ data: series(F_HR, F_DURATION), borderColor: "#000", borderWidth: 1.8 }])
        }
      />
      <ChartCanvas
        g={F_ROWS.itsna}
        make={(c) =>
          traceChart(c, F_ROWS.itsna, F_DURATION, F_ITSNA_TICKS, [
            { data: series(F_ITSNA_BASE, F_DURATION), borderColor: "#222", borderWidth: 0.8, backgroundColor: dark, fill: "+1" },
            { data: series(F_ITSNA_LO, F_DURATION), borderColor: "#222", borderWidth: 0.8, fill: false },
            { data: spikes(gridTimes(F_ITSNA_PEAKS, F_DURATION), F_ITSNA_PEAKS, 5, 2, 2), borderColor: "#222", borderWidth: 1, fill: false },
          ])
        }
      />
      <ChartCanvas
        g={F_ROWS.tsna}
        make={(c) =>
          traceChart(c, F_ROWS.tsna, F_DURATION, F_TSNA_TICKS, [
            { data: series(F_TSNA_UP, F_DURATION), borderColor: "#333", borderWidth: 0.8, backgroundColor: dark, fill: "+1" },
            { data: series(F_TSNA_LO, F_DURATION), borderColor: "#333", borderWidth: 0.8, fill: false },
          ])
        }
      />
      <ChartCanvas
        g={F_ROWS.pp}
        make={(c) =>
          traceChart(c, F_ROWS.pp, F_DURATION, F_PP_TICKS, [
            { data: series(F_PP_UP, F_DURATION), borderColor: "#222", borderWidth: 0.8, backgroundColor: dark, fill: "+1" },
            { data: series(F_PP_LO, F_DURATION), borderColor: "#222", borderWidth: 0.8, fill: false },
          ])
        }
      />
      <ChartCanvas
        g={F_ROWS.pna}
        make={(c) =>
          traceChart(c, F_ROWS.pna, F_DURATION, F_PNA_TICKS, [
            { data: series(F_PNA_BASE, F_DURATION), borderColor: "#111", borderWidth: 1, backgroundColor: dark, fill: { value: 0 } },
            { data: spikes(F_PNA_BURSTS, F_PNA_PEAK, 6, 1.5, 1.0), borderColor: "#111", borderWidth: 1, fill: false },
          ])
        }
      />

      {/* ---------- Panels G-J ---------- */}
      <ChartCanvas g={G_GEO} make={(c) => groupBarChart(c, G_GEO, G_MEAN, G_SEM, G_SIG, G_TICKS, 1, "Delta tSNA (µV)", [0.4, 3.42], G_BRACKET)} />
      <ChartCanvas g={H_GEO} make={(c) => groupBarChart(c, H_GEO, H_MEAN, H_SEM, H_SIG, H_TICKS, 0, "Delta PP (mmHg)", [0.51, 3.46], H_BRACKET)} />
      <ChartCanvas g={I_GEO} make={(c) => groupBarChart(c, I_GEO, I_MEAN, I_SEM, I_SIG, I_TICKS, 0, "Delta HR (bpm)", [0.56, 3.54], null)} />
      <ChartCanvas g={J_GEO} make={(c) => groupBarChart(c, J_GEO, J_MEAN, J_SEM, J_SIG, J_TICKS, 0, "Delta PNA Freq (bursts/min)", [0.59, 3.42], null)} />

      {/* ---------- Panels K-L ---------- */}
      <ChartCanvas
        g={K_GEO}
        make={(c) => freqBarChart(c, K_GEO, K_C1_MEAN, K_C1_SEM, K_C1_SIG, K_C3_MEAN, K_C3_SEM, K_C3_SIG, K_TICKS, 1, "Delta tSNA (µV)", true)}
      />
      <ChartCanvas
        g={L_GEO}
        make={(c) => freqBarChart(c, L_GEO, L_C1_MEAN, L_C1_SEM, L_C1_SIG, L_C3_MEAN, L_C3_SEM, L_C3_SIG, L_TICKS, 0, "Delta PP (mmHg)", false)}
      />

      {/* ---------- text labels ---------- */}
      <Letter x={12} y={1} text="A" />
      <Letter x={461} y={1} text="B" />
      <Letter x={657} y={1} text="C" />
      <Letter x={461} y={168} text="D" />
      <Letter x={657} y={168} text="E" />
      <Letter x={13} y={338} text="F" />
      <Letter x={13} y={543} text="G" />
      <Letter x={227} y={543} text="H" />
      <Letter x={437} y={543} text="I" />
      <Letter x={657} y={543} text="J" />
      <Letter x={12} y={726} text="K" />
      <Letter x={430} y={726} text="L" />

      <Txt x={24.5} y={32} text="Laser" bold size={11} />
      <Txt x={25} y={53} text="HR" bold />
      <Txt x={19.5} y={67.5} text="(bpm)" />
      <Txt x={25} y={118} text="∫tSNA" bold />
      <Txt x={31} y={130} text="(µV)" />
      <Txt x={19.5} y={171.5} text="tSNA" bold />
      <Txt x={20} y={182.5} text="(µV)" />
      <Txt x={25.5} y={222} text="PP" bold />
      <Txt x={19.5} y={235} text="(mmHg)" />
      <Txt x={26} y={283} text="∫PNA" bold />
      <Txt x={29} y={294.5} text="(µV)" />

      <Txt x={24.5} y={370} text="Laser" bold size={11} />
      <Txt x={25} y={382} text="HR" bold />
      <Txt x={18} y={391} text="(bpm)" />
      <Txt x={23} y={414} text="∫tSNA" bold />
      <Txt x={27} y={423} text="(µV)" />
      <Txt x={18} y={445} text="tSNA" bold />
      <Txt x={19} y={454} text="(µV)" />
      <Txt x={26} y={476} text="PP" bold />
      <Txt x={19} y={486} text="(mmHg)" />
      <Txt x={24} y={503} text="∫PNA" bold />
      <Txt x={28} y={512} text="(µV)" />
    </div>
  );
}
